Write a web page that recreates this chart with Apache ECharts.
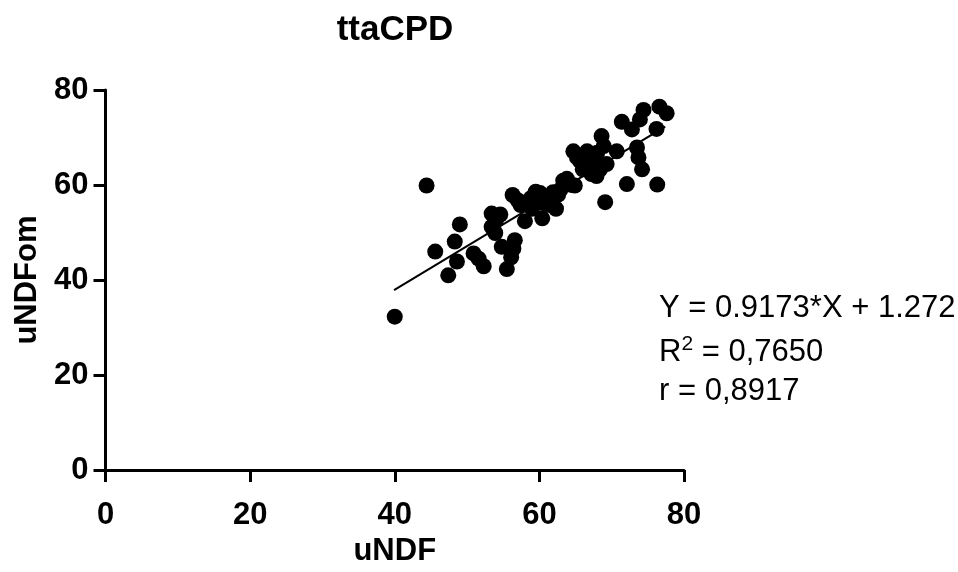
<!DOCTYPE html>
<html>
<head>
<meta charset="utf-8">
<script src="https://cdn.jsdelivr.net/npm/echarts@6/dist/echarts.min.js"></script>
<style>
html,body{margin:0;padding:0;background:#fff;}
#chart{width:958px;height:572px;}
</style>
</head>
<body>
<div id="chart"></div>
<script>
// uNDF (x) values
const uNDF = [40.0,44.4,45.6,47.4,48.3,48.6,49.0,50.9,51.6,52.3,53.4,53.4,53.9,54.6,54.8,55.5,56.1,56.4,56.6,56.3,
  57.4,58.0,58.4,59.0,59.5,60.1,60.4,61.0,61.5,61.9,62.3,62.9,63.3,63.8,64.5,64.9,64.7,65.6,66.0,66.6,
  67.2,67.5,67.9,68.4,68.6,68.9,69.3,69.1,70.7,71.4,72.1,72.8,73.5,73.7,74.2,73.9,74.4,76.2,76.3,76.6,77.6,
  57.0,58.8,60.6,62.6,65.2,66.4,68.0,54.0];
// uNDFom (y) values
const uNDFom = [32.3,59.9,46.0,41.0,48.1,43.9,51.7,45.6,44.5,42.9,54.0,51.2,49.9,53.8,47.0,42.3,44.8,46.6,48.4,57.9,
  55.8,52.4,56.0,55.0,58.6,58.3,53.0,57.4,55.8,58.5,55.0,59.0,60.9,61.3,60.0,59.9,67.1,65.1,63.3,67.1,
  62.3,65.4,61.9,63.3,70.3,68.2,64.4,56.4,67.1,73.3,60.2,71.7,67.9,65.8,63.3,73.8,75.8,71.8,60.1,76.5,75.1,
  56.8,57.2,56.2,58.0,65.8,64.2,66.8,52.6];
const xTicks = [0,20,40,60,80];
const yTicks = [0,20,40,60,80];
const slope = 0.9173, intercept = 1.272;
const fitRange = [39.9, 77.4];
const titleText = 'ttaCPD';
const xName = 'uNDF', yName = 'uNDFom';
const statLines = ['Y = 0.9173*X + 1.272', 'R{sup|2} = 0,7650', 'r = 0,8917'];

const pts = uNDF.map((x,i)=>[x, uNDFom[i]]);
const fit = fitRange.map(x=>[x, slope*x+intercept]);

const FONT = '"Liberation Sans", Arial, Helvetica, sans-serif';
const chart = echarts.init(document.getElementById('chart'), null, {renderer:'canvas'});
const axisCommon = {
  min: 0, max: 80, interval: 20,
  axisLine: {show:true, lineStyle:{color:'#000', width:3}},
  axisTick: {show:true, length:12, lineStyle:{color:'#000', width:3}},
  splitLine: {show:false},
  nameTextStyle: {fontFamily:FONT, fontWeight:'bold', fontSize:31, color:'#000'},
};
chart.setOption({
  animation:false,
  backgroundColor:'#fff',
  grid:{left:105.5, right:274, top:90, bottom:96, containLabel:false},
  xAxis: Object.assign({}, axisCommon, {
    type:'value', name:xName, nameLocation:'middle', nameGap:64,
    axisLabel:{margin:30, fontFamily:FONT, fontWeight:'bold', fontSize:31, color:'#000',
      formatter:v=> xTicks.includes(v)? String(v):''}
  }),
  yAxis: Object.assign({}, axisCommon, {
    type:'value', name:yName, nameLocation:'middle', nameGap:50,
    axisLabel:{margin:17, fontFamily:FONT, fontWeight:'bold', fontSize:31, color:'#000',
      formatter:v=> yTicks.includes(v)? String(v):''}
  }),
  graphic:[
    {type:'text', style:{text:titleText, x:395, y:30, align:'center', verticalAlign:'middle',
      font:'bold 35px '+FONT, fill:'#000'}},
    {type:'text', style:{text:statLines[0], x:659, y:308, verticalAlign:'middle', font:'31px '+FONT, fill:'#000'}},
    {type:'text', style:{text:statLines[1], x:659, y:352, verticalAlign:'middle', font:'31px '+FONT, fill:'#000',
      rich:{sup:{fontSize:21, fontFamily:FONT, verticalAlign:'top', padding:[0,0,16,0], fill:'#000'}}}},
    {type:'text', style:{text:statLines[2], x:659, y:391, verticalAlign:'middle', font:'31px '+FONT, fill:'#000'}}
  ],
  series:[
    {type:'scatter', data:pts, symbol:'circle', symbolSize:16, itemStyle:{color:'#000', opacity:1}, z:2},
    {type:'line', data:fit, showSymbol:false, symbol:'none', lineStyle:{color:'#000', width:2}, z:3}
  ]
});
</script>
</body>
</html>
